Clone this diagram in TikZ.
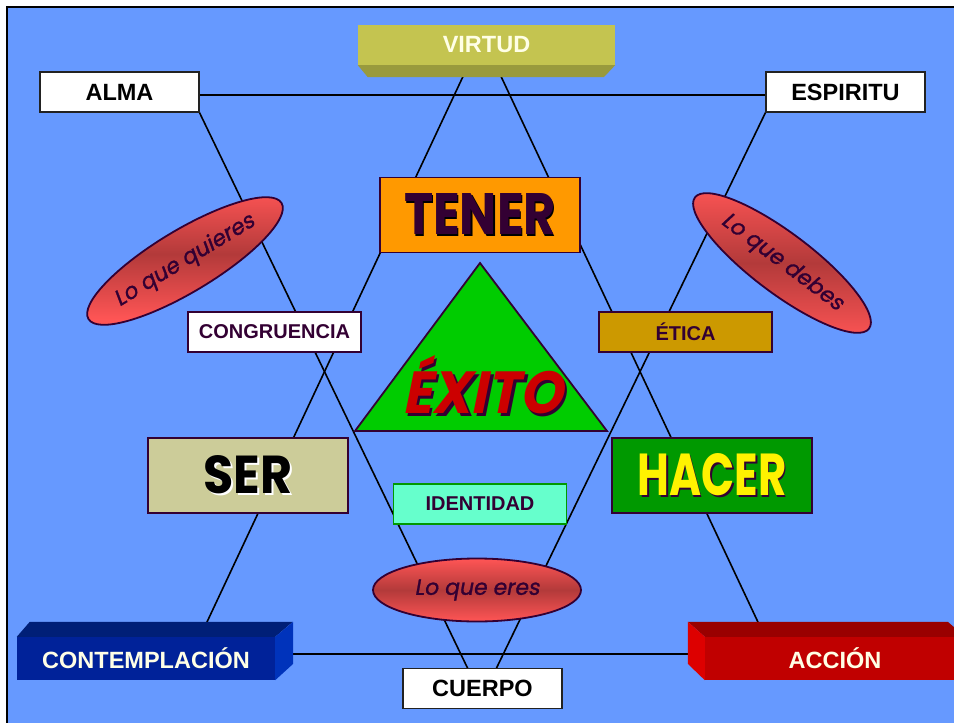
\documentclass[tikz,border=0pt]{standalone}
\usepackage{fontspec}
\usepackage{graphicx}
\setmainfont{Liberation Sans}
\newfontfamily\comic{Poppins}
\newfontfamily\comicit{Poppins}[FakeSlant=0.22]
\newfontfamily\comicglobo{Poppins}[FakeSlant=0.18, FakeBold=1.2]
\usetikzlibrary{shapes.geometric}

% Colores
\definecolor{fondo}{HTML}{6699FF}
\definecolor{morado}{HTML}{330033}
\definecolor{gris}{HTML}{222222}
\definecolor{crema}{HTML}{FFFFE6}
\definecolor{olivo}{HTML}{C4C450}
\definecolor{olivooscuro}{HTML}{999A3D}
\definecolor{naranja}{HTML}{FF9900}
\definecolor{ocre}{HTML}{CC9900}
\definecolor{beige}{HTML}{CCCC99}
\definecolor{verde}{HTML}{009900}
\definecolor{verdetri}{HTML}{00CC00}
\definecolor{aqua}{HTML}{66FFCC}
\definecolor{rojo}{HTML}{CC0000}
\definecolor{rojoclaro}{HTML}{FF5555}
\definecolor{rojooscuro}{HTML}{B33A3A}
\definecolor{azul}{HTML}{002299}
\definecolor{azultapa}{HTML}{001F77}
\definecolor{azullado}{HTML}{0033BB}
\definecolor{rojoacc}{HTML}{C00000}
\definecolor{rojotapa}{HTML}{990000}
\definecolor{rojolado}{HTML}{DD0000}

% Texto con sombra: #1 desplazamiento, #2 sombra, #3 color, #4 texto
\newcommand{\consombra}[4]{\makebox[0pt][l]{\hspace{#1}\raisebox{-#1}{\color{#2}#4}}{\color{#3}#4}}

\tikzset{
  caja/.style={draw=morado, line width=1.6pt, inner sep=0pt, text=morado,
    font=\fontsize{20}{24}\selectfont\bfseries},
  grande/.style={caja, minimum width=200pt, minimum height=75pt},
  media/.style={caja, minimum width=173pt, minimum height=40pt},
  blanca/.style={draw=gris, line width=1.4pt, fill=white, inner sep=0pt,
    minimum width=159pt, minimum height=40pt, font=\fontsize{23.5}{28}\selectfont\bfseries},
  bloque/.style={inner sep=0pt, minimum height=43pt, text=crema,
    font=\fontsize{23.5}{28}\selectfont\bfseries},
  globo/.style={ellipse, draw=morado, line width=1.8pt, inner sep=0pt,
    top color=rojoclaro, bottom color=rojoclaro, middle color=rojooscuro,
    text=morado, font=\comicglobo\fontsize{22}{24}\selectfont},
  linea/.style={line width=1.6pt, black},
}

\begin{document}
\begin{tikzpicture}[x=1pt, y=-1pt]
  \useasboundingbox (0,0) rectangle (954,723);

  % Fondo
  \fill[fondo] (7,7) rectangle (954,723);
  \draw[line width=2pt] (7,723) -- (7,7) -- (954,7);

  % Vertices de la estrella
  \coordinate (cima) at (482,36);
  \coordinate (baseizq) at (192,654);
  \coordinate (baseder) at (773,654);
  \coordinate (altoizq) at (191,95);
  \coordinate (altoder) at (774,95);
  \coordinate (fondoinf) at (482,698);

  % Lineas de los dos triangulos
  \draw[linea] (cima) -- (baseizq) -- (baseder) -- cycle;
  \draw[linea] (altoizq) -- (altoder) -- (fondoinf) -- cycle;

  % Bloques en relieve
  \node[bloque, fill=olivo, minimum width=257pt, minimum height=40pt] (virtud) at (486.5,45) {VIRTUD};
  \fill[olivooscuro] (virtud.south west) -- ++(10,12) -- ++(236,0) -- (virtud.south east) -- cycle;

  \node[bloque, fill=azul, minimum width=258pt] (contemplacion) at (146,658.5) {CONTEMPLACIÓN};
  \fill[azultapa] (contemplacion.north west) -- ++(13,-15) -- ++(263,0) -- (contemplacion.north east) -- cycle;
  \fill[azullado] (contemplacion.north east) -- ++(18,-15) -- ++(0,42) -- (contemplacion.south east) -- cycle;

  \node[bloque, fill=rojoacc, minimum width=260pt] (accion) at (835,658.5) {ACCIÓN};
  \fill[rojotapa] (accion.north west) -- ++(-17,-15) -- ++(260,0) -- (accion.north east) -- cycle;
  \fill[rojolado] (accion.north west) -- ++(-17,-15) -- ++(0,42) -- (accion.south west) -- cycle;

  % Cajas blancas
  \node[blanca] (alma) at (119.5,92) {ALMA};
  \node[blanca] (espiritu) at (845.5,92) {ESPIRITU};
  \node[blanca] (cuerpo) at (482.5,688.5) {CUERPO};

  % Cajas principales
  \node[grande, fill=naranja] (tener) at (480,215)
    {\resizebox{152pt}{41pt}{\comic\bfseries\fontsize{54}{58}\selectfont\consombra{1.2pt}{black}{morado}{TENER}}};
  \node[grande, fill=beige] (ser) at (248,475.5)
    {\resizebox{89pt}{38pt}{\comic\bfseries\fontsize{52}{56}\selectfont\consombra{2pt}{white}{black}{SER}}};
  \node[grande, fill=verde] (hacer) at (712,475.5)
    {\resizebox{149pt}{42pt}{\comic\bfseries\fontsize{54}{58}\selectfont\consombra{2pt}{morado}{yellow}{HACER}}};

  % Cajas medianas
  \node[media, fill=white] (congruencia) at (274.5,332) {CONGRUENCIA};
  \node[media, fill=ocre] (etica) at (685.5,332) {ÉTICA};
  \node[media, fill=aqua, draw=verde] (identidad) at (480,504) {IDENTIDAD};

  % Triangulo central
  \filldraw[fill=verdetri, draw=morado, line width=1.8pt] (480,263) -- (607,431) -- (355,431) -- cycle;
  \node (exito) at (482,386)
    {\resizebox{160pt}{58pt}{\comicit\bfseries\fontsize{54}{58}\selectfont\consombra{2.5pt}{morado}{rojo}{ÉXITO}}};

  % Elipses
  \node[globo, minimum width=212pt, minimum height=62pt, rotate=31] (quieres) at (185,261) {Lo que quieres};
  \node[globo, minimum width=218pt, minimum height=60pt, rotate=-37] (debes) at (782,263) {Lo que debes};
  \node[globo, minimum width=208pt, minimum height=63pt] (eres) at (477,590) {Lo que eres};
\end{tikzpicture}
\end{document}
